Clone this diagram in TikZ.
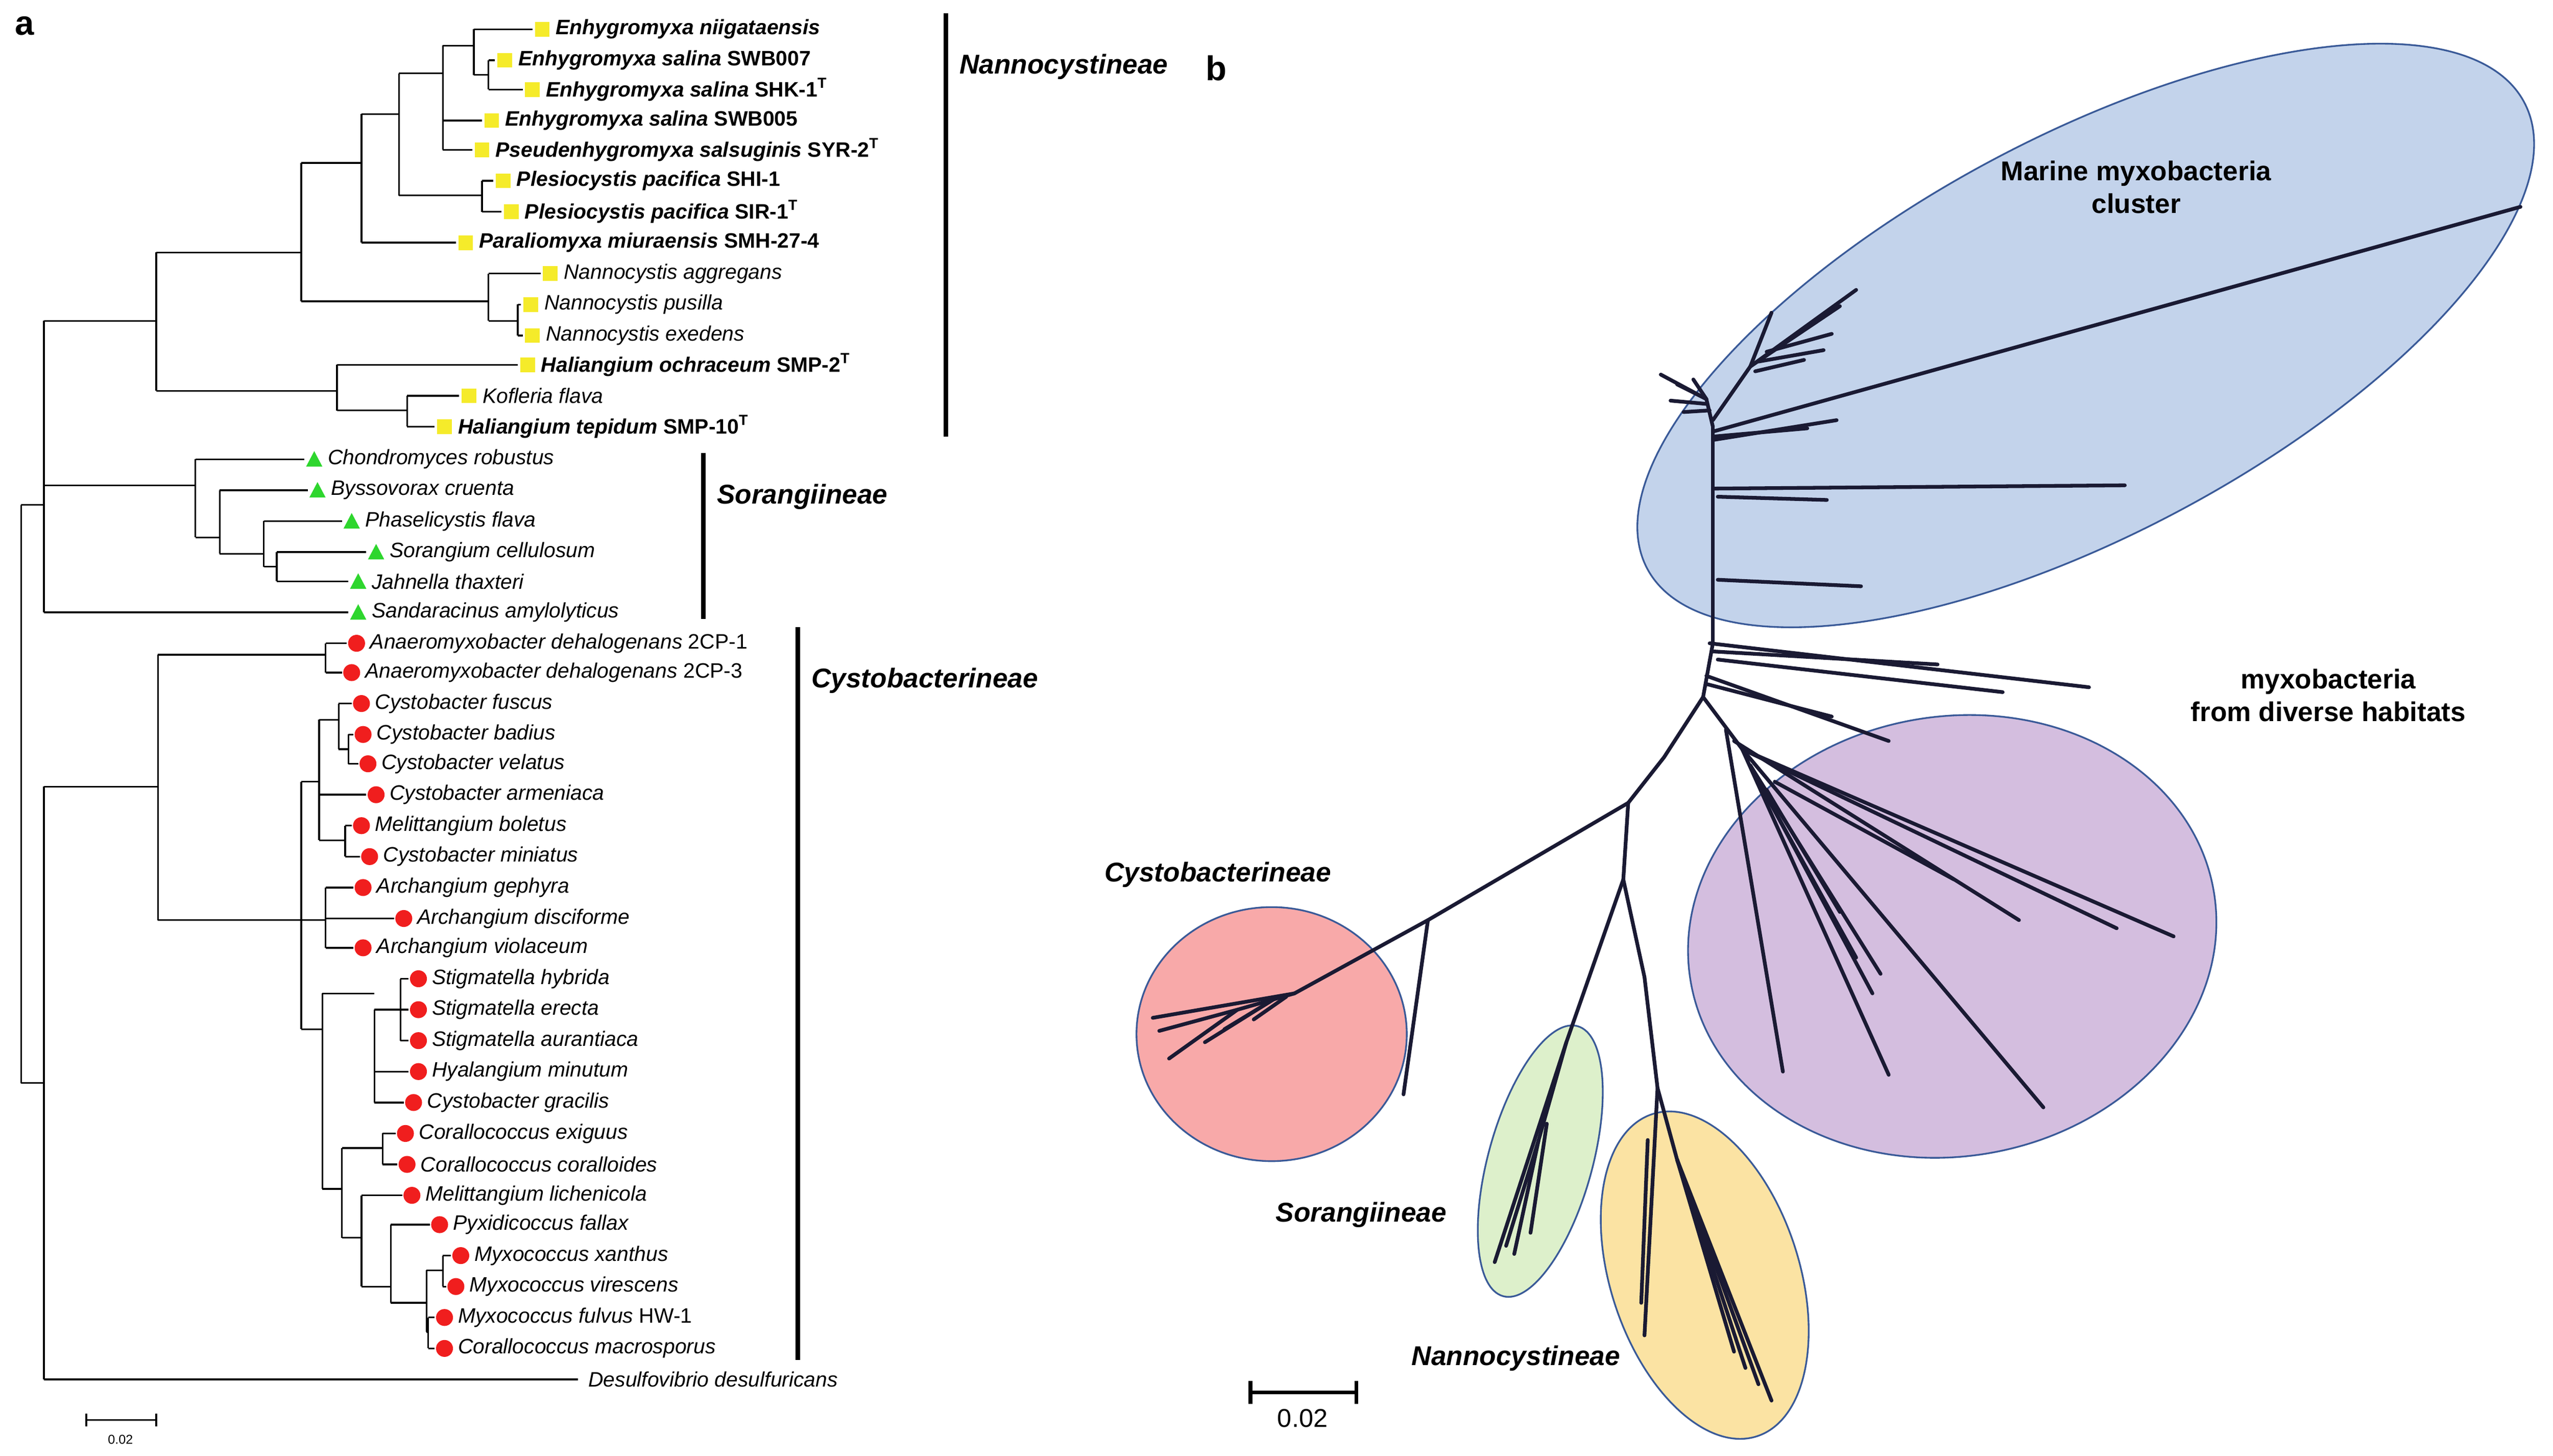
\documentclass[tikz,border=0pt]{standalone}
\usepackage{fontspec}
\setmainfont{Liberation Sans}
\definecolor{bfill}{HTML}{C3D3EB}
\definecolor{pfill}{HTML}{D4BEDF}
\definecolor{rfill}{HTML}{F8A9A9}
\definecolor{gfill}{HTML}{DDF0CB}
\definecolor{yfill}{HTML}{FBE3A3}
\definecolor{edge}{HTML}{3A5A98}
\definecolor{navy}{HTML}{1A1A33}
\definecolor{mkyel}{HTML}{F5EB2A}
\definecolor{mkgrn}{HTML}{2ED62E}
\definecolor{mkred}{HTML}{F01E1E}
\newcommand\hl[3]{\draw[tr] (#1,#2)--(#3,#2);}
\newcommand\vl[3]{\draw[tr] (#1,#2)--(#1,#3);}
\newcommand\mksq[2]{\fill[mkyel] (#1-4.5,#2-4.5) rectangle (#1+4.5,#2+4.5);}
\newcommand\mktr[2]{\fill[mkgrn] (#1-5,#2+4.5)--(#1+5,#2+4.5)--(#1,#2-5)--cycle;}
\newcommand\mkci[2]{\fill[mkred] (#1,#2) circle (5.2);}
% \tx{name}{y}{tip}{marker}{text}
\newcommand\tx[5]{#4{#3+6}{#2}\node[lab] (#1) at (#3+14,#2) {#5};}
\begin{document}
\begin{tikzpicture}[x=0.02cm,y=-0.02cm,
  tr/.style={line width=0.6pt,black},
  lab/.style={anchor=west,inner sep=0pt,font=\fontsize{7.3}{8}\selectfont\itshape},
  grp/.style={anchor=west,inner sep=0pt,font=\fontsize{9.5}{11}\selectfont\bfseries\itshape},
  bt/.style={line width=1.3pt,navy,line cap=round,line join=round},
  ell/.style={draw=edge,line width=0.6pt},
  blab/.style={inner sep=0pt,align=center,font=\fontsize{9.5}{11.5}\selectfont\bfseries}]
\useasboundingbox (0,0) rectangle (1568,894);
\node[inner sep=0pt,font=\fontsize{12}{12}\selectfont\bfseries] (pa) at (15,16) {a};
\node[inner sep=0pt,font=\fontsize{12}{12}\selectfont\bfseries] (pb) at (747,42) {b};
% ---------- panel a tree
\vl{13}{310}{665}\hl{13}{310}{27}\hl{13}{665}{27}
\vl{27}{197}{376}\hl{27}{197}{96}\hl{27}{298}{120}\hl{27}{376}{214}
\vl{27}{483}{847}\hl{27}{483}{97}\hl{27}{847}{355}
\vl{96}{155}{240}\hl{96}{155}{185}\hl{96}{240}{207}
\vl{185}{100}{185}\hl{185}{100}{222}\hl{185}{185}{300}
\vl{300}{168}{197}\hl{300}{168}{332}\hl{300}{197}{318}\vl{318}{187}{206}\hl{318}{187}{320}\hl{318}{206}{321}
\vl{222}{70}{149}\hl{222}{70}{245}\hl{222}{149}{280}
\vl{245}{45}{120}\hl{245}{45}{272}\hl{245}{120}{296}\vl{296}{111}{130}\hl{296}{111}{303}\hl{296}{130}{308}
\vl{272}{28}{92}\hl{272}{28}{291}\hl{272}{74}{296}\hl{272}{92}{290}\vl{291}{18}{46}\hl{291}{18}{327}\hl{291}{46}{300}\vl{300}{37}{55}\hl{300}{37}{304}\hl{300}{55}{321}
\vl{207}{224}{252}\hl{207}{224}{318}\hl{207}{252}{250}\vl{250}{243}{262}\hl{250}{243}{282}\hl{250}{262}{267}
\vl{120}{282}{330}\hl{120}{282}{187}\hl{120}{330}{135}\vl{135}{301}{340}\hl{135}{301}{189}\hl{135}{340}{162}
\vl{162}{320}{348}\hl{162}{320}{210}\hl{162}{348}{170}\vl{170}{339}{357}\hl{170}{339}{225}\hl{170}{357}{214}
\vl{97}{402}{565}\hl{97}{402}{200}\hl{97}{565}{185}\vl{200}{395}{413}\hl{200}{395}{213}\hl{200}{413}{210}
\vl{185}{480}{632}\hl{185}{480}{196}\hl{185}{565}{200}\hl{185}{632}{198}
\vl{196}{442}{516}\hl{196}{442}{208}\hl{196}{488}{225}\hl{196}{516}{212}
\vl{208}{432}{460}\hl{208}{432}{216}\hl{208}{460}{214}\vl{214}{451}{469}\hl{214}{451}{217}\hl{214}{469}{220}
\vl{212}{507}{526}\hl{212}{507}{216}\hl{212}{526}{221}
\vl{200}{545}{582}\hl{200}{545}{217}\hl{200}{564}{242}\hl{200}{582}{217}
\vl{198}{610}{730}\hl{198}{610}{230}\hl{198}{730}{210}
\vl{230}{620}{677}\hl{230}{620}{246}\hl{230}{658}{251}\hl{230}{677}{248}
\vl{246}{601}{639}\hl{246}{601}{251}\hl{246}{620}{251}\hl{246}{639}{251}
\vl{210}{705}{760}\hl{210}{705}{235}\hl{210}{760}{222}\vl{235}{696}{715}\hl{235}{696}{243}\hl{235}{715}{244}
\vl{222}{734}{790}\hl{222}{734}{247}\hl{222}{790}{240}\vl{240}{752}{800}\hl{240}{752}{264}\hl{240}{800}{262}
\vl{262}{780}{818}\hl{262}{780}{272}\hl{262}{818}{263}\vl{272}{771}{790}\hl{272}{771}{277}\hl{272}{790}{274}
\vl{263}{809}{828}\hl{263}{809}{267}\hl{263}{828}{267}
% ---------- taxa
\tx{t1}{18}{327}{\mksq}{\textbf{Enhygromyxa niigataensis}}
\tx{t2}{37}{304}{\mksq}{\textbf{Enhygromyxa salina} \textbf{\upshape SWB007}}
\tx{t3}{55}{321}{\mksq}{\textbf{Enhygromyxa salina} \textbf{\upshape SHK-1\textsuperscript{T}}}
\tx{t4}{74}{296}{\mksq}{\textbf{Enhygromyxa salina} \textbf{\upshape SWB005}}
\tx{t5}{92}{290}{\mksq}{\textbf{Pseudenhygromyxa salsuginis} \textbf{\upshape SYR-2\textsuperscript{T}}}
\tx{t6}{111}{303}{\mksq}{\textbf{Plesiocystis pacifica} \textbf{\upshape SHI-1}}
\tx{t7}{130}{308}{\mksq}{\textbf{Plesiocystis pacifica} \textbf{\upshape SIR-1\textsuperscript{T}}}
\tx{t8}{149}{280}{\mksq}{\textbf{Paraliomyxa miuraensis} \textbf{\upshape SMH-27-4}}
\tx{t9}{168}{332}{\mksq}{Nannocystis aggregans}
\tx{t10}{187}{320}{\mksq}{Nannocystis pusilla}
\tx{t11}{206}{321}{\mksq}{Nannocystis exedens}
\tx{t12}{224}{318}{\mksq}{\textbf{Haliangium ochraceum} \textbf{\upshape SMP-2\textsuperscript{T}}}
\tx{t13}{243}{282}{\mksq}{Kofleria flava}
\tx{t14}{262}{267}{\mksq}{\textbf{Haliangium tepidum} \textbf{\upshape SMP-10\textsuperscript{T}}}
\tx{t15}{282}{187}{\mktr}{Chondromyces robustus}
\tx{t16}{301}{189}{\mktr}{Byssovorax cruenta}
\tx{t17}{320}{210}{\mktr}{Phaselicystis flava}
\tx{t18}{339}{225}{\mktr}{Sorangium cellulosum}
\tx{t19}{357}{214}{\mktr}{Jahnella thaxteri}
\tx{t20}{376}{214}{\mktr}{Sandaracinus amylolyticus}
\tx{t21}{395}{213}{\mkci}{Anaeromyxobacter dehalogenans {\upshape 2CP-1}}
\tx{t22}{413}{210}{\mkci}{Anaeromyxobacter dehalogenans {\upshape 2CP-3}}
\tx{t23}{432}{216}{\mkci}{Cystobacter fuscus}
\tx{t24}{451}{217}{\mkci}{Cystobacter badius}
\tx{t25}{469}{220}{\mkci}{Cystobacter velatus}
\tx{t26}{488}{225}{\mkci}{Cystobacter armeniaca}
\tx{t27}{507}{216}{\mkci}{Melittangium boletus}
\tx{t28}{526}{221}{\mkci}{Cystobacter miniatus}
\tx{t29}{545}{217}{\mkci}{Archangium gephyra}
\tx{t30}{564}{242}{\mkci}{Archangium disciforme}
\tx{t31}{582}{217}{\mkci}{Archangium violaceum}
\tx{t32}{601}{251}{\mkci}{Stigmatella hybrida}
\tx{t33}{620}{251}{\mkci}{Stigmatella erecta}
\tx{t34}{639}{251}{\mkci}{Stigmatella aurantiaca}
\tx{t35}{658}{251}{\mkci}{Hyalangium minutum}
\tx{t36}{677}{248}{\mkci}{Cystobacter gracilis}
\tx{t37}{696}{243}{\mkci}{Corallococcus exiguus}
\tx{t38}{715}{244}{\mkci}{Corallococcus coralloides}
\tx{t39}{734}{247}{\mkci}{Melittangium lichenicola}
\tx{t40}{752}{264}{\mkci}{Pyxidicoccus fallax}
\tx{t41}{771}{277}{\mkci}{Myxococcus xanthus}
\tx{t42}{790}{274}{\mkci}{Myxococcus virescens}
\tx{t43}{809}{267}{\mkci}{Myxococcus fulvus {\upshape HW-1}}
\tx{t44}{828}{267}{\mkci}{Corallococcus macrosporus}
\node[lab] (t45) at (361,847) {Desulfovibrio desulfuricans};
% group bars
\draw[line width=1.6pt] (581,8)--(581,268);
\node[grp] (g1) at (589,41) {Nannocystineae};
\draw[line width=1.6pt] (432,278)--(432,380);
\node[grp] (g2) at (440,305) {Sorangiineae};
\draw[line width=1.6pt] (490,385)--(490,835);
\node[grp] (g3) at (498,418) {Cystobacterineae};
% scale a
\draw[line width=0.6pt] (53,868)--(53,876) (53,872)--(96,872) (96,868)--(96,876);
\node[inner sep=0pt,font=\fontsize{4.5}{5}\selectfont] (sa) at (74,884) {0.02};
% ---------- panel b
\draw[ell,fill=bfill,rotate around={28:(1281,206)}] (1281,206) ellipse (305 and 122);
\draw[ell,fill=pfill,rotate around={10:(1199,575)}] (1199,575) ellipse (163 and 135);
\draw[ell,fill=rfill] (781,635) ellipse (83 and 78);
\draw[ell,fill=gfill,rotate around={74.6:(946,713)}] (946,713) ellipse (86 and 32);
\draw[ell,fill=yfill,rotate around={108:(1047,783)}] (1047,783) ellipse (104 and 58);
% blue cluster
\draw[bt] (1052,395)--(1052,262);
\draw[bt] (1052,265)--(1548,127);
\draw[bt] (1053,300)--(1305,298);
\draw[bt] (1055,305)--(1122,307);
\draw[bt] (1055,356)--(1143,360);
\draw[bt] (1053,270)--(1128,258);
\draw[bt] (1053,268)--(1110,263);
\draw[bt] (1052,262)--(1048,245)--(1020,230);
\draw[bt] (1048,245)--(1030,236);
\draw[bt] (1048,245)--(1040,233);
\draw[bt] (1050,252)--(1034,253);
\draw[bt] (1048,248)--(1026,246);
\draw[bt] (1052,258)--(1075,225)--(1140,178);
\draw[bt] (1075,225)--(1130,188);
\draw[bt] (1075,225)--(1088,192);
\draw[bt] (1080,222)--(1120,215);
\draw[bt] (1085,216)--(1125,205);
\draw[bt] (1078,228)--(1108,221);
% purple
\draw[bt] (1050,395)--(1283,422);
\draw[bt] (1052,400)--(1190,408);
\draw[bt] (1055,405)--(1230,425);
\draw[bt] (1048,415)--(1160,455);
\draw[bt] (1048,420)--(1125,440);
\draw[bt] (1052,395)--(1046,428)--(1022,465)--(1000,493);
\draw[bt] (1046,428)--(1070,460)--(1335,575);
\draw[bt] (1070,460)--(1300,570);
\draw[bt] (1070,460)--(1255,680);
\draw[bt] (1070,460)--(1160,660);
\draw[bt] (1060,448)--(1095,658);
\draw[bt] (1075,470)--(1150,610);
\draw[bt] (1075,470)--(1155,598);
\draw[bt] (1080,480)--(1140,588);
\draw[bt] (1065,455)--(1240,565);
\draw[bt] (1090,480)--(1200,540);
\draw[bt] (1085,485)--(1130,560);
% red
\draw[bt] (1000,493)--(877,565)--(795,610);
\draw[bt] (877,565)--(862,672);
\draw[bt] (795,610)--(708,625);
\draw[bt] (795,610)--(760,620)--(712,633);
\draw[bt] (760,620)--(718,650);
\draw[bt] (780,615)--(740,640);
\draw[bt] (790,612)--(770,626);
\draw[bt] (785,612)--(752,632);
% green
\draw[bt] (1000,493)--(997,540)--(1010,600)--(1018,668);
\draw[bt] (997,540)--(962,640)--(918,775);
\draw[bt] (962,640)--(945,700)--(930,770);
\draw[bt] (945,700)--(925,765);
\draw[bt] (950,690)--(940,757);
% yellow
\draw[bt] (1018,668)--(1010,820);
\draw[bt] (1018,668)--(1030,712)--(1088,860);
\draw[bt] (1030,712)--(1080,850);
\draw[bt] (1030,712)--(1072,840);
\draw[bt] (1030,712)--(1065,830);
\draw[bt] (1012,700)--(1008,800);
% labels b
\node[blab] (m1) at (1312,115) {Marine myxobacteria\\cluster};
\node[blab] (m2) at (1430,427) {myxobacteria\\from diverse habitats};
\node[blab,font=\fontsize{9.5}{11}\selectfont\bfseries\itshape] (m3) at (748,537) {Cystobacterineae};
\node[blab,font=\fontsize{9.5}{11}\selectfont\bfseries\itshape] (m4) at (836,746) {Sorangiineae};
\node[blab,font=\fontsize{9.5}{11}\selectfont\bfseries\itshape] (m5) at (931,834) {Nannocystineae};
\draw[line width=1.3pt] (768,848)--(768,862) (768,855)--(833,855) (833,848)--(833,862);
\node[inner sep=0pt,font=\fontsize{9}{10}\selectfont] (sb) at (800,871) {0.02};
\end{tikzpicture}
\end{document}
